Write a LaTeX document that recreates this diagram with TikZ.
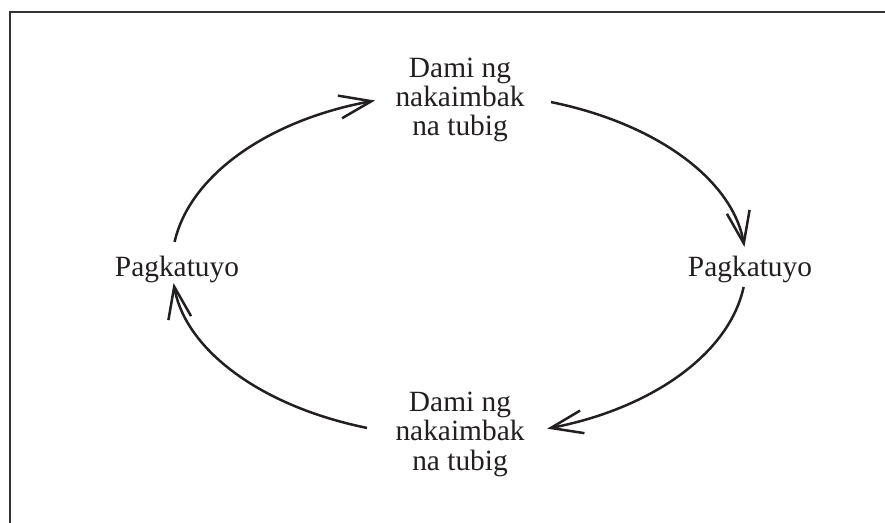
\documentclass[tikz,border=0pt]{standalone}
\usepackage{fontspec}
\setmainfont{Liberation Serif}
\usetikzlibrary{arrows.meta,calc}
\definecolor{ink}{HTML}{231F20}
\begin{document}
\begin{tikzpicture}[x=1bp,y=1bp,
  lbl/.style={inner sep=0pt, anchor=base, align=center, text=ink,
    font=\fontsize{29.5}{29.5}\selectfont},
  conn/.style={draw=ink, line width=2.5bp, -{Straight Barb[length=32bp,width=23bp,line width=2.5bp]}},
  frame/.style={draw=black!80, line width=1.8bp}]
\useasboundingbox (0,0) rectangle (885,-523);
\draw[frame] (10.2,-523) -- (10.2,-12.3) -- (885,-12.3);
% labels (base = baseline of last line)
\node[lbl] (top) at (460,-136) {Dami ng\\nakaimbak\\na tubig};
\node[lbl] (bot) at (460,-470) {Dami ng\\nakaimbak\\na tubig};
\node[lbl] (left) at (177,-277) {Pagkatuyo};
\node[lbl] (right) at (750,-277) {Pagkatuyo};
% cycle
\coordinate (c) at (459,-265);
\coordinate (s1) at ($(c)+(172.3:287bp and 172bp)$);
\coordinate (s2) at ($(c)+(71.3:287bp and 172bp)$);
\coordinate (s3) at ($(c)+(-7.35:287bp and 172bp)$);
\coordinate (s4) at ($(c)+(-108.7:287bp and 172bp)$);
\draw[conn] (s1) arc[start angle=172.3, end angle=107, x radius=287bp, y radius=172bp];
\draw[conn] (s2) arc[start angle=71.3, end angle=6, x radius=287bp, y radius=172bp];
\draw[conn] (s3) arc[start angle=-7.35, end angle=-72.1, x radius=287bp, y radius=172bp];
\draw[conn] (s4) arc[start angle=-108.7, end angle=-174, x radius=287bp, y radius=172bp];
\end{tikzpicture}
\end{document}
